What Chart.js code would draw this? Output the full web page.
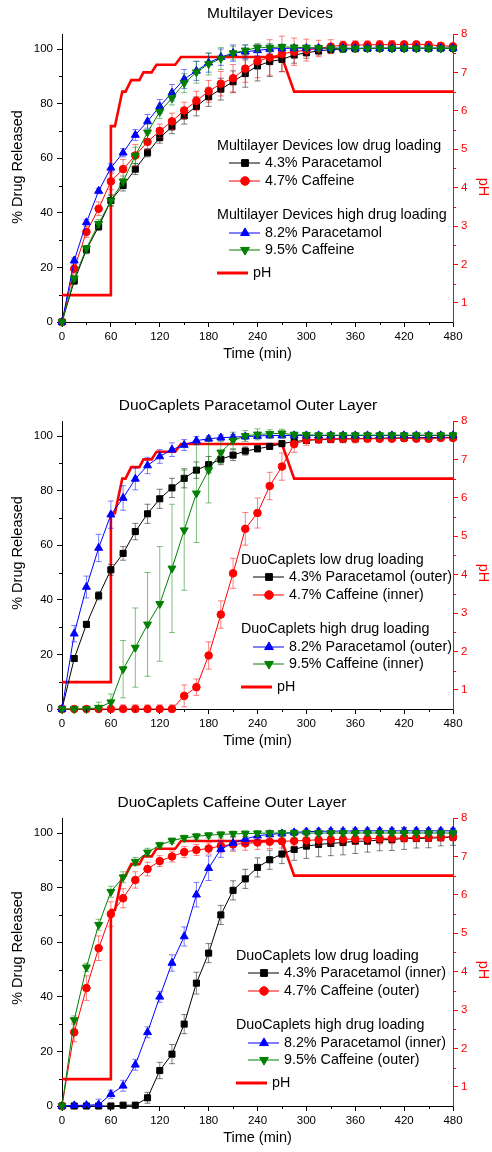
<!DOCTYPE html>
<html>
<head>
<meta charset="utf-8">
<script src="https://cdn.jsdelivr.net/npm/chart.js@4.4.0/dist/chart.umd.min.js"></script>
<style>
body { margin: 0; background: #fff; width: 492px; height: 1152px; position: relative; overflow: hidden; }
canvas { position: absolute; left: 0; }
</style>
</head>
<body>
<canvas id="c1" width="492" height="367" style="top:0px"></canvas>
<canvas id="c2" width="492" height="367" style="top:387px"></canvas>
<canvas id="c3" width="492" height="367" style="top:784px"></canvas>
<script>
// sampling times (min)
var times = [0, 15, 30, 45, 60, 75, 90, 105, 120, 135, 150, 165, 180, 195, 210, 225, 240, 255, 270, 285, 300, 315, 330, 345, 360, 375, 390, 405, 420, 435, 450, 465, 480];

// pH profile of the dissolution medium
var pHTime  = [0, 60, 60, 65, 74, 78, 85, 95, 100, 110, 116, 139, 146, 270, 285, 480];
var pHValue = [1.2, 1.2, 5.6, 5.6, 6.5, 6.5, 6.8, 6.8, 7.0, 7.0, 7.2, 7.2, 7.4, 7.4, 6.5, 6.5];

// --- Multilayer Devices ---
var mlPara43 = [0, 15, 26.5, 35, 44.5, 50, 56, 62, 67.5, 71.5, 75.5, 79, 82.5, 85.3, 88, 91, 93.8, 95.4, 96.2, 97.8, 98.6, 99.3, 99.8, 100, 100.1, 100.2, 100.3, 100.3, 100.3, 100.3, 100.3, 100.3, 100.3];
var mlPara43Err = [0, 1, 1.5, 1.5, 2, 2, 2, 1.5, 2, 2.5, 3, 3.5, 3.5, 4, 4, 5, 5.5, 5.5, 4.5, 3, 2, 1.5, 1.5, 1, 1, 1, 1, 1, 1, 1, 1, 1, 1];
var mlCaf47 = [0, 19.5, 33, 41.5, 51.5, 56, 61, 66, 70, 73.5, 77.5, 81, 84.5, 87.3, 89.3, 92.8, 95.5, 96.9, 98.2, 99, 99.6, 100.2, 100.9, 101.4, 101.5, 101.5, 101.6, 101.6, 101.7, 101.7, 101.5, 101.2, 101];
var mlCaf47Err = [0, 1.5, 2, 2.5, 3, 3.5, 4, 3, 2.5, 3, 3, 3.5, 4, 4.5, 5, 5, 6, 6.5, 6.5, 5, 4, 3, 2.5, 1.5, 1.5, 1.5, 1.5, 1.5, 1, 1, 1, 1, 1];
var mlPara82 = [0, 22.5, 36.5, 48, 56.5, 62, 68.5, 73.5, 79, 84, 89, 92, 95, 97, 98.5, 99, 99.5, 100, 100.2, 100.3, 100.3, 100.3, 100.3, 100.3, 100.3, 100.3, 100.3, 100.3, 100.3, 100.3, 100.3, 100.3, 100.3];
var mlPara82Err = [0, 1, 1, 1, 1.5, 1.5, 2, 2.5, 2.5, 3, 3.5, 3.5, 3.5, 3, 3, 2.5, 2, 1.5, 1, 1, 1, 1, 1, 1, 1, 1, 1, 1, 1, 1, 1, 1, 1];
var mlCaf95 = [0, 16, 27, 36, 44.5, 51.5, 61, 69.5, 77, 82, 87.5, 91.5, 94.5, 96.5, 98.5, 99.5, 100.5, 100.5, 100.8, 100.6, 100.5, 100.4, 100.3, 100.2, 100.2, 100.2, 100.2, 100.2, 100.2, 100.2, 100.2, 100.2, 100.2];
var mlCaf95Err = [0, 1, 1, 1.5, 2, 2, 3, 3, 2.5, 2.5, 3.5, 4, 4, 4, 2.5, 2, 1.5, 1.5, 1, 1, 1, 1, 1, 1, 1, 1, 1, 1, 1, 1, 1, 1, 1];

// --- DuoCaplets Paracetamol Outer Layer ---
var poPara43 = [0, 18.5, 31, 41.5, 51, 57, 65, 71.5, 77, 81, 84.5, 87.5, 89.5, 91.5, 93, 94.5, 95.3, 96.2, 97.2, 98, 98.4, 98.7, 98.8, 98.9, 99, 99.1, 99.2, 99.3, 99.3, 99.4, 99.4, 99.5, 99.5];
var poPara43Err = [0, 1, 1, 1.5, 2, 2.5, 3, 3.5, 3.5, 3.5, 3.5, 3, 3, 2, 2, 1.5, 1, 1, 1, 1, 1, 1, 1, 1, 1, 1, 1, 1, 1, 1, 1, 1, 1];
var poCaf47 = [0, 0, 0, 0, 0, 0, 0, 0, 0, 0, 4.8, 8, 19.6, 34.6, 49.7, 66, 71.8, 81.7, 88.8, 97, 98.6, 98.8, 99, 99, 99, 99, 99, 99, 99.2, 99, 99, 99.3, 99.3];
var poCaf47Err = [0, 0.5, 0.5, 0.5, 1, 1.5, 1.5, 1.5, 1.5, 1.5, 4, 3, 5, 5, 5.5, 6, 5.5, 5, 5, 3, 2, 1.5, 1.5, 1.5, 1.5, 1, 1, 1, 1, 1, 1, 1, 1];
var poPara82 = [0, 27.6, 44.7, 59, 71.2, 77.3, 84.3, 89.2, 92.5, 95, 96.7, 98.3, 99, 99.4, 99.6, 99.8, 100, 100.2, 100.2, 100.2, 100.2, 100.2, 100.2, 100.2, 100.2, 100.2, 100.2, 100.2, 100.2, 100.2, 100.2, 100.2, 100.2];
var poPara82Err = [0, 3, 4, 5, 5, 4.5, 4, 3, 2.5, 2.5, 2, 1.5, 1, 1, 1, 1, 1, 1, 1, 1, 1, 1, 1, 1, 1, 1, 1, 1, 1, 1, 1, 1, 1];
var poCaf95 = [0, 0, 0, 0.5, 2.5, 14.6, 22.5, 31, 38.5, 51.5, 65.5, 79, 87.5, 94, 98.4, 100, 100.6, 100.8, 101, 100.5, 100.4, 100.3, 100.3, 100.3, 100.3, 100.3, 100.3, 100.3, 100.3, 100.3, 100.3, 100.3, 100.3];
var poCaf95Err = [0, 0.5, 0.5, 2, 3, 10.5, 14.5, 19, 21, 23.5, 22, 18, 12, 4, 3, 2, 2, 1.5, 1.5, 1, 1, 1, 1, 1, 1, 1, 1, 1, 1, 1, 1, 1, 1];

// --- DuoCaplets Caffeine Outer Layer ---
var coPara43 = [0, 0, 0, 0, 0, 0.3, 0.3, 3, 13, 19, 30, 45, 56, 70, 79, 83.2, 87.4, 90.2, 92.3, 94, 95.2, 95.8, 96.2, 96.5, 97, 97, 97.5, 97.6, 98, 98, 98.1, 98.3, 98.5];
var coPara43Err = [0, 0.3, 0.3, 0.3, 0.5, 0.5, 1, 2, 3, 3.5, 3.5, 4, 3.5, 3.5, 3.5, 3.5, 3.5, 3.5, 3.5, 4, 4.5, 4.5, 4.5, 4.5, 4.5, 4, 4, 4, 4, 3.5, 3.5, 3, 3];
var coCaf47 = [0, 27, 43.2, 57.8, 70.3, 76.1, 82.8, 86.8, 89.7, 91.4, 93, 93.8, 94.3, 95.3, 95.8, 96.2, 96.5, 96.8, 97, 97.1, 97.3, 97.5, 97.6, 97.7, 97.8, 97.9, 98, 98.1, 98.2, 98.3, 98.4, 98.5, 98.6];
var coCaf47Err = [0, 3.5, 4.5, 4.5, 4.5, 3.5, 3, 2.5, 2, 2, 2, 2, 2, 2.5, 2.5, 2.5, 2.5, 2.5, 2.5, 2, 2, 2, 2, 2, 2, 2, 2, 2, 1.5, 1.5, 1.5, 1.5, 1.5];
var coPara82 = [0, 0.2, 0.3, 0.5, 4.3, 7.4, 15.1, 27, 40, 52.4, 62.1, 77.4, 87.1, 94.1, 96.3, 97.8, 99, 99.5, 99.8, 100.2, 100.5, 100.6, 100.7, 100.7, 100.8, 100.8, 100.8, 100.8, 100.8, 100.8, 100.8, 100.8, 100.8];
var coPara82Err = [0, 0.3, 0.3, 2, 1.5, 2, 2, 2, 2, 3, 3.5, 4.5, 4.5, 3, 2.5, 2, 1.5, 1, 1, 1, 1, 1, 1, 1, 1, 1, 1, 1, 1, 1, 1, 1, 1];
var coCaf95 = [0, 31.5, 50.8, 66.4, 78.5, 83.8, 89.5, 92.9, 95.6, 97.2, 98.2, 98.8, 99.2, 99.5, 99.7, 99.8, 99.9, 100, 100, 100, 100, 100, 100, 100, 100, 100, 100, 100, 100, 100, 100, 100, 100];
var coCaf95Err = [0, 1.5, 1.5, 2, 2, 2, 1.5, 1.5, 1, 1, 1, 1, 1, 1, 1, 1, 1, 1, 1, 1, 1, 1, 1, 1, 1, 1, 1, 1, 1, 1, 1, 1, 1];

var FONT = '"Liberation Sans", Arial, sans-serif';

// error bars drawn behind each dataset's markers
var errorBars = {
  id: 'errorBars',
  beforeDatasetDraw: function(chart, args) {
    var ds = chart.data.datasets[args.index];
    if (!ds.err) return;
    var ys = chart.scales.y, ctx = chart.ctx, area = chart.chartArea;
    ctx.save();
    ctx.strokeStyle = ds.errColor;
    ctx.lineWidth = 1;
    args.meta.data.forEach(function(pt, i) {
      var v = ds.data[i].y, e = ds.err[i];
      if (!e) return;
      var top = ys.getPixelForValue(v + e);
      var bot = Math.min(ys.getPixelForValue(v - e), area.bottom);
      ctx.beginPath();
      ctx.moveTo(pt.x, top); ctx.lineTo(pt.x, bot);
      ctx.moveTo(pt.x - 3, top); ctx.lineTo(pt.x + 3, top);
      if (bot < area.bottom) { ctx.moveTo(pt.x - 3, bot); ctx.lineTo(pt.x + 3, bot); }
      ctx.stroke();
    });
    ctx.restore();
  }
};

// half-step minor ticks on every axis
var minorTicks = {
  id: 'minorTicks',
  afterDraw: function(chart) {
    var ctx = chart.ctx;
    ctx.save();
    ctx.lineWidth = 1;
    Object.keys(chart.scales).forEach(function(id) {
      var s = chart.scales[id];
      var step = s.options.ticks.stepSize;
      ctx.strokeStyle = s.options.border.color;
      s.ticks.forEach(function(t) {
        [t.value - step / 2, t.value + step / 2].forEach(function(m) {
          if (m <= s.min || m >= s.max) return;
          var p = Math.round(s.getPixelForValue(m)) + 0.5;
          ctx.beginPath();
          if (id === 'x') { ctx.moveTo(p, s.top); ctx.lineTo(p, s.top + 3); }
          else if (id === 'y') { ctx.moveTo(s.right, p); ctx.lineTo(s.right - 3, p); }
          else { ctx.moveTo(s.left, p); ctx.lineTo(s.left + 3, p); }
          ctx.stroke();
        });
      });
    });
    ctx.restore();
  }
};

// panel title, vertical axis titles and grouped legend
var panelText = {
  id: 'panelText',
  afterDraw: function(chart, args, o) {
    var ctx = chart.ctx, ds = chart.data.datasets;
    ctx.save();
    ctx.fillStyle = '#000';
    ctx.font = '15.5px ' + FONT;
    ctx.textAlign = 'center';
    ctx.textBaseline = 'middle';
    ctx.fillText(o.title, o.titleX, o.titleY);

    ctx.font = '14.5px ' + FONT;
    ctx.save();
    ctx.translate(18, o.yTitleY);
    ctx.rotate(-Math.PI / 2);
    ctx.fillText('% Drug Released', 0, 0);
    ctx.restore();
    ctx.save();
    ctx.fillStyle = '#ff0000';
    ctx.translate(483, o.pHTitleY);
    ctx.rotate(Math.PI / 2);
    ctx.fillText('pH', 0, 0);
    ctx.restore();

    ctx.font = '14.3px ' + FONT;
    ctx.textAlign = 'left';
    var hx = o.x, hy = o.y;
    var rows = [
      { head: o.heads[0], dy: 0 }, { ds: 0, dy: 17 }, { ds: 1, dy: 35 },
      { head: o.heads[1], dy: 69 }, { ds: 2, dy: 87 }, { ds: 3, dy: 104 }
    ];
    rows.forEach(function(r) {
      var y = hy + r.dy;
      if (r.head) { ctx.fillStyle = '#000'; ctx.fillText(r.head, hx, y); return; }
      var d = ds[r.ds];
      ctx.strokeStyle = d.borderColor;
      ctx.lineWidth = 1;
      ctx.beginPath(); ctx.moveTo(hx + 12, y); ctx.lineTo(hx + 43, y); ctx.stroke();
      ctx.fillStyle = d.pointBackgroundColor;
      ctx.strokeStyle = d.pointBackgroundColor;
      Chart.helpers.drawPoint(ctx, { pointStyle: d.pointStyle, radius: d.pointRadius + 0.5, rotation: d.pointRotation || 0, borderWidth: 1 }, hx + 28, y);
      ctx.fillStyle = '#000';
      ctx.fillText(d.label, hx + 48, y);
    });
    var py = hy + 127;
    ctx.strokeStyle = '#ff0000';
    ctx.lineWidth = 3;
    ctx.beginPath(); ctx.moveTo(hx, py); ctx.lineTo(hx + 31, py); ctx.stroke();
    ctx.fillStyle = '#000';
    ctx.fillText('pH', hx + 36, py);
    ctx.restore();
  }
};

function pts(vals) {
  return vals.map(function(v, i) { return { x: times[i], y: v }; });
}

function series(label, vals, errs, color, errColor, style, radius, rot, order) {
  return {
    label: label, data: pts(vals), err: errs, errColor: errColor,
    borderColor: color, borderWidth: 1, tension: 0,
    pointStyle: style, pointRadius: radius, pointRotation: rot,
    pointBackgroundColor: color, pointBorderColor: color, pointBorderWidth: 1,
    yAxisID: 'y', order: order, clip: false
  };
}

function phSeries() {
  return {
    label: 'pH',
    data: pHTime.map(function(t, i) { return { x: t, y: pHValue[i] }; }),
    borderColor: '#ff0000', borderWidth: 2.6, pointRadius: 0, tension: 0,
    yAxisID: 'y2', order: 5, clip: false
  };
}

function axisCommon(color) {
  return {
    grid: { drawOnChartArea: false, drawTicks: true, tickLength: 5, color: color },
    border: { display: true, color: color, width: 1 },
    ticks: { color: color, font: { family: FONT, size: 11.5 }, padding: 3, includeBounds: false }
  };
}

function makePanel(id, labels, para43, para43Err, caf47, caf47Err, para82, para82Err, caf95, caf95Err, text) {
  var xa = axisCommon('#000');
  xa.type = 'linear'; xa.min = 0; xa.max = 480;
  xa.ticks.stepSize = 60; xa.ticks.maxRotation = 0; xa.ticks.autoSkip = false;
  xa.title = { display: true, text: 'Time (min)', color: '#000', font: { family: FONT, size: 14.5 }, padding: { top: 0, bottom: 4 } };
  xa.afterFit = function(s) { s.height = 45; };

  var ya = axisCommon('#000');
  ya.position = 'left'; ya.min = 0; ya.max = 105.5;
  ya.ticks.stepSize = 20; ya.ticks.padding = 4;
  ya.afterFit = function(s) { s.width = 62; };

  var y2 = axisCommon('#ff0000');
  y2.position = 'right'; y2.min = 0.5; y2.max = 8;
  y2.ticks.stepSize = 1;
  y2.afterFit = function(s) { s.width = 39; };

  new Chart(document.getElementById(id), {
    type: 'line',
    data: {
      datasets: [
        series(labels[0], para43, para43Err, '#000000', 'rgba(0,0,0,0.5)', 'rect', 4.3, 0, 4),
        series(labels[1], caf47, caf47Err, '#ff0000', 'rgba(255,0,0,0.5)', 'circle', 3.8, 0, 3),
        series(labels[2], para82, para82Err, '#0000ff', 'rgba(0,0,255,0.5)', 'triangle', 4.6, 0, 2),
        series(labels[3], caf95, caf95Err, '#008000', 'rgba(0,128,0,0.5)', 'triangle', 4.6, 180, 1),
        phSeries()
      ]
    },
    options: {
      responsive: false,
      animation: false,
      events: [],
      layout: { padding: { top: 34, left: 0, right: 0, bottom: 0 } },
      scales: { x: xa, y: ya, y2: y2 },
      plugins: { legend: { display: false }, tooltip: { enabled: false }, panelText: text }
    },
    plugins: [errorBars, minorTicks, panelText]
  });
}

makePanel('c1', ['4.3% Paracetamol', '4.7% Caffeine', '8.2% Paracetamol', '9.5% Caffeine'],
  mlPara43, mlPara43Err, mlCaf47, mlCaf47Err, mlPara82, mlPara82Err, mlCaf95, mlCaf95Err,
  { title: 'Multilayer Devices', titleX: 270, titleY: 14, x: 217, y: 146, yTitleY: 167, pHTitleY: 187,
    heads: ['Multilayer Devices low drug loading', 'Multilayer Devices high drug loading'] });

makePanel('c2', ['4.3% Paracetamol (outer)', '4.7% Caffeine (inner)', '8.2% Paracetamol (outer)', '9.5% Caffeine (inner)'],
  poPara43, poPara43Err, poCaf47, poCaf47Err, poPara82, poPara82Err, poCaf95, poCaf95Err,
  { title: 'DuoCaplets Paracetamol Outer Layer', titleX: 248, titleY: 19, x: 241, y: 173, yTitleY: 166, pHTitleY: 186,
    heads: ['DuoCaplets low drug loading', 'DuoCaplets high drug loading'] });

makePanel('c3', ['4.3% Paracetamol (inner)', '4.7% Caffeine (outer)', '8.2% Paracetamol (inner)', '9.5% Caffeine (outer)'],
  coPara43, coPara43Err, coCaf47, coCaf47Err, coPara82, coPara82Err, coCaf95, coCaf95Err,
  { title: 'DuoCaplets Caffeine Outer Layer', titleX: 232, titleY: 19, x: 236, y: 172, yTitleY: 164, pHTitleY: 186,
    heads: ['DuoCaplets low drug loading', 'DuoCaplets high drug loading'] });
</script>
</body>
</html>
